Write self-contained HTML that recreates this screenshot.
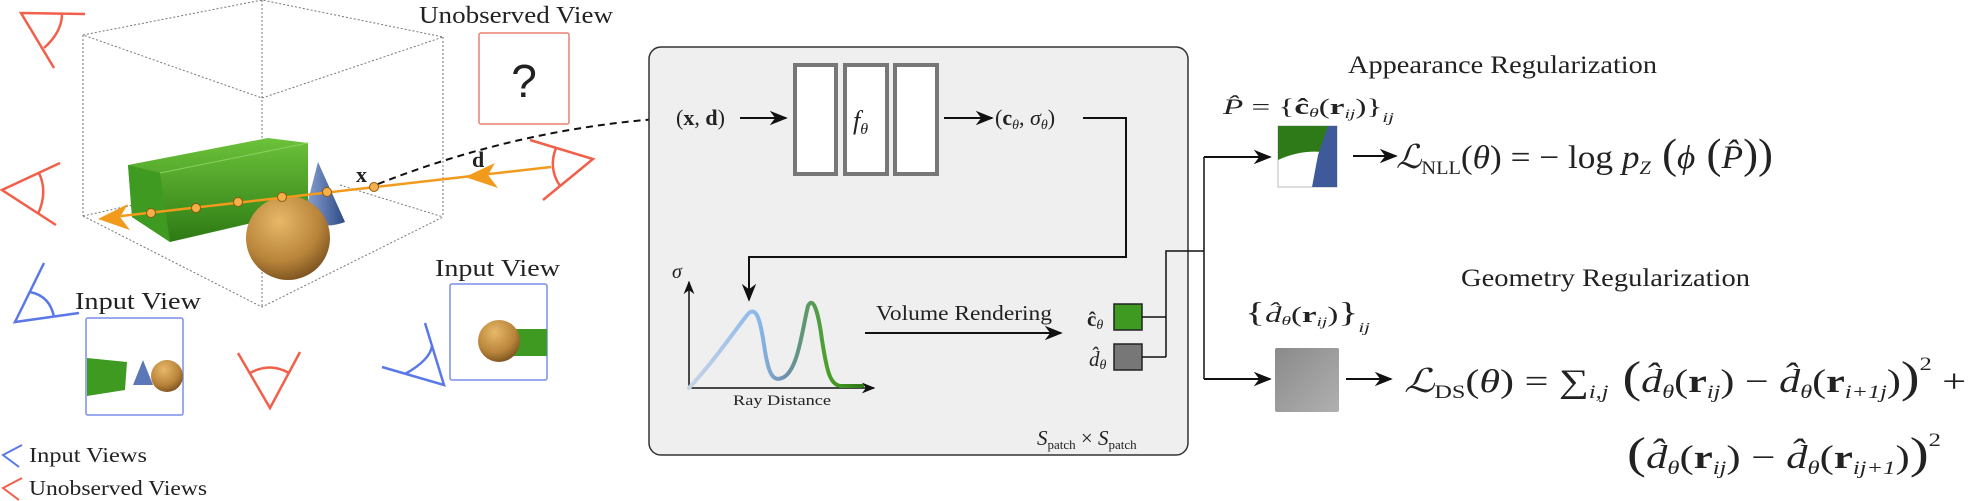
<!DOCTYPE html>
<html><head><meta charset="utf-8"><style>
html,body{margin:0;padding:0;background:#fff}
svg{display:block}
text{font-family:"Liberation Serif",serif;fill:#222}
.it{font-style:italic}
.b{font-weight:bold}
</style></head><body>
<svg width="1969" height="501" viewBox="0 0 1969 501" xmlns="http://www.w3.org/2000/svg">
<defs>
<marker id="ar" viewBox="0 0 10 10" refX="9" refY="5" markerWidth="9" markerHeight="9" orient="auto"><path d="M0,1 L10,5 L0,9 L3,5z" fill="#111"/></marker>
<linearGradient id="gb" x1="0" y1="0" x2="0" y2="1"><stop offset="0" stop-color="#6cc23a"/><stop offset="1" stop-color="#2d7a14"/></linearGradient>
<radialGradient id="sp" cx="0.4" cy="0.3" r="0.8"><stop offset="0" stop-color="#e8b868"/><stop offset="0.6" stop-color="#b8843a"/><stop offset="1" stop-color="#6a4418"/></radialGradient>
<linearGradient id="cn" x1="0" y1="0" x2="1" y2="0"><stop offset="0" stop-color="#8fa8d8"/><stop offset="1" stop-color="#2f4a85"/></linearGradient>
<linearGradient id="cv" x1="0" y1="0" x2="1" y2="0"><stop offset="0" stop-color="#c8d4e4"/><stop offset="0.4" stop-color="#8ab8ec"/><stop offset="0.55" stop-color="#7090b0"/><stop offset="0.8" stop-color="#4aa028"/><stop offset="1" stop-color="#2f7a18"/></linearGradient>
<linearGradient id="gr" x1="0" y1="0" x2="1" y2="1"><stop offset="0" stop-color="#8a8a8a"/><stop offset="1" stop-color="#b0b0b0"/></linearGradient>
</defs>

<g stroke="#777" stroke-width="1" stroke-dasharray="2,2" fill="none">
<path d="M83,35 L262,0 L443,37 L262,98 Z"/>
<path d="M83,35 V216 M443,37 V217 M262,0 V307"/>
<path d="M83,216 L262,307 L443,217"/>
<path d="M83,216 L200,190 M340,185 L443,217"/>
</g>

<path d="M128,165 L268,138 L308,143 L308,210 L170,242 L132,217 Z" fill="url(#gb)"/>
<path d="M128,165 L160,173 L170,242 L132,217 Z" fill="#3f9a22"/>
<path d="M160,173 L308,143" stroke="#8ad060" stroke-width="1"/>
<path d="M318,162 L345,222 Q324,230 303,220 Z" fill="url(#cn)"/>
<circle cx="288" cy="238" r="42" fill="url(#sp)"/>

<line x1="551" y1="167" x2="104" y2="218" stroke="#f29a1c" stroke-width="2.5"/>
<path d="M98,219 L128,204 L120,217 L130,230 Z" fill="#f29a1c"/>
<path d="M465,177 L495,163 L488,175 L498,188 Z" fill="#f29a1c"/>
<g fill="#f5b04a" stroke="#8a5a10" stroke-width="1">
<circle cx="151" cy="213" r="4.5"/><circle cx="196" cy="208" r="4.5"/><circle cx="238" cy="202" r="4.5"/><circle cx="282" cy="197" r="4.5"/><circle cx="327" cy="192" r="4.5"/><circle cx="374" cy="187" r="4.5"/>
</g>
<text x="356" y="182" font-size="22" class="b">x</text>
<text x="472" y="167" font-size="22" class="b">d</text>
<path d="M378,184 Q520,128 670,118" stroke="#111" stroke-width="2" fill="none" stroke-dasharray="7,5"/>
<path d="M672,118 L660,113 L663,118 L660,123 Z" fill="#111"/>

<text x="419" y="23" font-size="24" textLength="194" lengthAdjust="spacingAndGlyphs">Unobserved View</text>
<rect x="479" y="33" width="90" height="91" fill="#fff" stroke="#e88070" stroke-width="1.5" rx="2"/>
<text x="524" y="97" font-size="46" text-anchor="middle" style="font-family:'Liberation Sans',sans-serif">?</text>

<g stroke="#f0604a" stroke-width="2.5" fill="none">
<path d="M85,14 L21,13 L54,68"/><path d="M62,14 Q62,32 44,48"/>
<path d="M60,163 L2,190 L56,225"/><path d="M39,173 Q48,192 38,214"/>
<path d="M530,140 L593,159 L543,200"/><path d="M556,148 Q548,168 560,186"/>
<path d="M238,353 L270,408 L300,352"/><path d="M250,373 Q270,362 289,373"/>
</g>
<g stroke="#5a78e8" stroke-width="2.5" fill="none">
<path d="M44,263 L15,322 L79,313"/><path d="M30,292 Q50,296 54,317"/>
<path d="M382,367 L444,385 L425,323"/><path d="M405,374 Q430,360 432,346"/>
</g>

<text x="75" y="309" font-size="24" textLength="126" lengthAdjust="spacingAndGlyphs">Input View</text>
<rect x="86" y="318" width="97" height="97" fill="#fff" stroke="#7a8ee8" stroke-width="1.5" rx="2"/>
<path d="M87,358 L127,362 L125,390 L87,396 Z" fill="#3f9a22"/>
<path d="M143,360 L153,385 L133,385 Z" fill="#5a78b8"/>
<circle cx="167" cy="376" r="16" fill="url(#sp)"/>
<text x="435" y="276" font-size="24" textLength="125" lengthAdjust="spacingAndGlyphs">Input View</text>
<rect x="450" y="284" width="97" height="96" fill="#fff" stroke="#7a8ee8" stroke-width="1.5" rx="2"/>
<rect x="510" y="329" width="37" height="27" fill="#3f9a22"/>
<circle cx="499" cy="341" r="21" fill="url(#sp)"/>

<path d="M22,445 L3,455 L19,467" stroke="#5a78e8" stroke-width="2" fill="none"/>
<text x="29" y="462" font-size="21" textLength="118" lengthAdjust="spacingAndGlyphs">Input Views</text>
<path d="M22,478 L3,488 L19,500" stroke="#f0604a" stroke-width="2" fill="none"/>
<text x="29" y="495" font-size="21" textLength="178" lengthAdjust="spacingAndGlyphs">Unobserved Views</text>

<rect x="649" y="47" width="539" height="408" rx="12" fill="#efefef" stroke="#333" stroke-width="1.5"/>
<text x="676" y="125" font-size="22">(<tspan class="b">x</tspan>, <tspan class="b">d</tspan>)</text>
<line x1="740" y1="118" x2="786" y2="118" stroke="#111" stroke-width="2" marker-end="url(#ar)"/>
<g fill="#fff" stroke="#777" stroke-width="4">
<rect x="795" y="65" width="41" height="109"/><rect x="845" y="65" width="42" height="109"/><rect x="895" y="65" width="42" height="109"/>
</g>
<text x="853" y="129" font-size="26" class="it">f<tspan font-size="16" dy="5">θ</tspan></text>
<line x1="944" y1="118" x2="992" y2="118" stroke="#111" stroke-width="2" marker-end="url(#ar)"/>
<text x="995" y="125" font-size="22">(<tspan class="b">c</tspan><tspan font-size="14" class="it" dy="4">θ</tspan><tspan dy="-4">, </tspan><tspan class="it">σ</tspan><tspan font-size="14" class="it" dy="4">θ</tspan><tspan dy="-4">)</tspan></text>
<path d="M1083,118 H1126 V257 H749 V300" stroke="#111" stroke-width="2" fill="none" marker-end="url(#ar)"/>
<text x="672" y="278" font-size="20" class="it">σ</text>
<line x1="689" y1="388" x2="689" y2="282" stroke="#111" stroke-width="1.5" marker-end="url(#ar)"/>
<line x1="689" y1="388" x2="874" y2="388" stroke="#111" stroke-width="1.5" marker-end="url(#ar)"/>
<path d="M689,388 C715,360 735,330 748,314 C756,306 760,318 764,345 C768,372 772,382 782,378 C798,372 802,330 808,306 C813,296 818,310 822,340 C827,372 830,384 840,386 L862,386" stroke="url(#cv)" stroke-width="4" fill="none" stroke-linecap="round"/>
<text x="733" y="405" font-size="15" textLength="98" lengthAdjust="spacingAndGlyphs">Ray Distance</text>
<text x="876" y="320" font-size="21" textLength="176" lengthAdjust="spacingAndGlyphs">Volume Rendering</text>
<line x1="865" y1="333" x2="1061" y2="333" stroke="#111" stroke-width="2" marker-end="url(#ar)"/>
<text x="1087" y="326" font-size="21" class="b">ĉ<tspan font-size="14" class="it" dy="3" font-weight="normal">θ</tspan></text>
<rect x="1114" y="304" width="28" height="26" fill="#3f9a22" stroke="#222" stroke-width="1.5"/>
<text x="1089" y="366" font-size="21" class="it">d̂<tspan font-size="14" dy="3">θ</tspan></text>
<rect x="1114" y="344" width="28" height="26" fill="#777" stroke="#222" stroke-width="1.5"/>
<path d="M1142,317 H1166 M1142,357 H1166 M1166,317 V357 M1166,317 V251 H1204 M1204,157 V379" stroke="#111" stroke-width="1.5" fill="none"/>
<text x="1037" y="445" font-size="21" class="it">S<tspan font-size="13" dy="4" font-style="normal">patch</tspan><tspan dy="-4" font-style="normal"> × </tspan>S<tspan font-size="13" dy="4" font-style="normal">patch</tspan></text>

<line x1="1204" y1="157" x2="1270" y2="157" stroke="#111" stroke-width="2" marker-end="url(#ar)"/>
<line x1="1204" y1="379" x2="1270" y2="379" stroke="#111" stroke-width="2" marker-end="url(#ar)"/>
<text x="1348" y="73" font-size="25" textLength="309" lengthAdjust="spacingAndGlyphs">Appearance Regularization</text>
<text x="1223" y="114" font-size="22" textLength="171" lengthAdjust="spacingAndGlyphs"><tspan class="it">P̂</tspan> = {<tspan class="b">ĉ</tspan><tspan font-size="13" class="it" dy="3">θ</tspan><tspan dy="-3">(</tspan><tspan class="b">r</tspan><tspan font-size="13" class="it" dy="4">ij</tspan><tspan dy="-4">)}</tspan><tspan font-size="14" class="it" dy="8">ij</tspan></text>
<rect x="1278" y="126" width="59" height="61" fill="#fff" stroke="#bbb"/>
<path d="M1278,126 H1328 L1322,152 Q1300,150 1278,160 Z" fill="#2f7a18"/>
<path d="M1328,126 H1337 V187 H1312 L1318,155 Z" fill="#3f5a9a"/>
<line x1="1353" y1="156" x2="1396" y2="156" stroke="#111" stroke-width="2" marker-end="url(#ar)"/>
<text x="1396" y="168" font-size="33" textLength="377" lengthAdjust="spacingAndGlyphs"><tspan class="it">ℒ</tspan><tspan font-size="19" dy="6">NLL</tspan><tspan dy="-6">(</tspan><tspan class="it">θ</tspan>) = − log <tspan class="it">p</tspan><tspan font-size="19" class="it" dy="6">Z</tspan><tspan dy="-6" font-size="42"> (</tspan><tspan class="it">ϕ</tspan><tspan font-size="42"> (</tspan><tspan class="it">P̂</tspan><tspan font-size="42">))</tspan></text>

<text x="1461" y="286" font-size="25" textLength="289" lengthAdjust="spacingAndGlyphs">Geometry Regularization</text>
<text x="1245" y="322" font-size="22" textLength="125" lengthAdjust="spacingAndGlyphs"><tspan font-size="28">{</tspan><tspan class="it">d̂</tspan><tspan font-size="13" class="it" dy="3">θ</tspan><tspan dy="-3">(</tspan><tspan class="b">r</tspan><tspan font-size="13" class="it" dy="4">ij</tspan><tspan dy="-4">)</tspan><tspan font-size="28">}</tspan><tspan font-size="14" class="it" dy="10">ij</tspan></text>
<rect x="1275" y="348" width="64" height="64" rx="2" fill="url(#gr)"/>
<line x1="1346" y1="379" x2="1391" y2="379" stroke="#111" stroke-width="2" marker-end="url(#ar)"/>
<text x="1404" y="392" font-size="33" textLength="562" lengthAdjust="spacingAndGlyphs"><tspan class="it">ℒ</tspan><tspan font-size="19" dy="6">DS</tspan><tspan dy="-6">(</tspan><tspan class="it">θ</tspan>) = ∑<tspan font-size="19" class="it" dy="6">i,j</tspan><tspan dy="-6" font-size="44"> (</tspan><tspan class="it">d̂</tspan><tspan font-size="19" class="it" dy="6">θ</tspan><tspan dy="-6">(</tspan><tspan class="b">r</tspan><tspan font-size="19" class="it" dy="6">ij</tspan><tspan dy="-6">) − </tspan><tspan class="it">d̂</tspan><tspan font-size="19" class="it" dy="6">θ</tspan><tspan dy="-6">(</tspan><tspan class="b">r</tspan><tspan font-size="19" class="it" dy="6">i+1j</tspan><tspan dy="-6">)</tspan><tspan font-size="44">)</tspan><tspan font-size="19" dy="-22">2</tspan><tspan dy="22"> +</tspan></text>
<text x="1627" y="468" font-size="33" textLength="314" lengthAdjust="spacingAndGlyphs"><tspan font-size="44">(</tspan><tspan class="it">d̂</tspan><tspan font-size="19" class="it" dy="6">θ</tspan><tspan dy="-6">(</tspan><tspan class="b">r</tspan><tspan font-size="19" class="it" dy="6">ij</tspan><tspan dy="-6">) − </tspan><tspan class="it">d̂</tspan><tspan font-size="19" class="it" dy="6">θ</tspan><tspan dy="-6">(</tspan><tspan class="b">r</tspan><tspan font-size="19" class="it" dy="6">ij+1</tspan><tspan dy="-6">)</tspan><tspan font-size="44">)</tspan><tspan font-size="19" dy="-22">2</tspan></text>
</svg>
</body></html>
